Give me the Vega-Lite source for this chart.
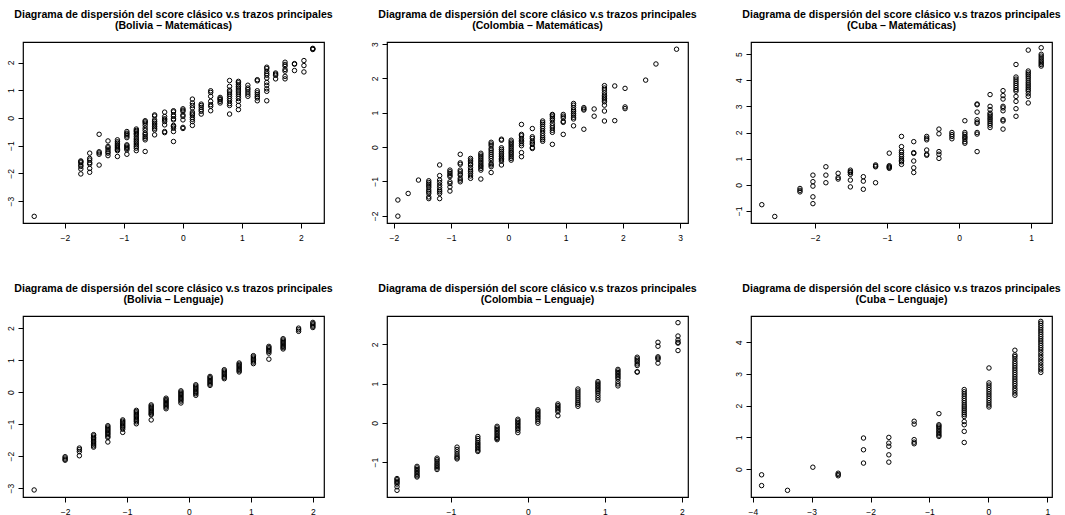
{
  "$schema": "https://vega.github.io/schema/vega-lite/v6.json",
  "background": "white",
  "padding": {"left": 5, "top": 9, "right": 5, "bottom": 5},
  "bounds": "flush",
  "columns": 3,
  "spacing": {"row": 93, "column": 63},
  "config": {
    "view": {"stroke": "black", "strokeWidth": 1.2, "continuousWidth": 301, "continuousHeight": 181},
    "font": "Liberation Sans",
    "axis": {
      "grid": false, "domain": false, "ticks": true, "tickColor": "black", "tickSize": 5, "tickWidth": 1,
      "labelFont": "Liberation Sans", "labelFontSize": 8.5, "labelColor": "black",
      "labelOverlap": false, "labelFlush": false, "labelBound": false
    },
    "axisX": {"labelPadding": 5},
    "axisY": {"labelAngle": 270, "labelAlign": "center", "labelBaseline": "bottom", "labelPadding": 3},
    "title": {"font": "Liberation Sans", "fontWeight": "bold", "fontSize": 10.6, "color": "black", "anchor": "middle", "offset": 10, "lineHeight": 11},
    "point": {"shape": "circle", "filled": false, "color": "black", "size": 20, "strokeWidth": 1, "opacity": 1}
  },
  "datasets": {
    "bol_mat": [
      {"trazo":-2.52,"score":-3.55},
      {"trazo":-1.73,"score":-1.55},{"trazo":-1.73,"score":-1.58},{"trazo":-1.73,"score":-1.62},{"trazo":-1.73,"score":-1.70},{"trazo":-1.73,"score":-1.75},{"trazo":-1.73,"score":-1.84},{"trazo":-1.73,"score":-2.02},
      {"trazo":-1.58,"score":-1.27},{"trazo":-1.58,"score":-1.46},{"trazo":-1.58,"score":-1.52},{"trazo":-1.58,"score":-1.61},{"trazo":-1.58,"score":-1.66},{"trazo":-1.58,"score":-1.82},{"trazo":-1.58,"score":-1.96},
      {"trazo":-1.42,"score":-0.59},{"trazo":-1.42,"score":-1.22},{"trazo":-1.42,"score":-1.26},{"trazo":-1.42,"score":-1.31},{"trazo":-1.42,"score":-1.70},
      {"trazo":-1.27,"score":-0.83},{"trazo":-1.27,"score":-1.03},{"trazo":-1.27,"score":-1.08},{"trazo":-1.27,"score":-1.15},{"trazo":-1.27,"score":-1.22},{"trazo":-1.27,"score":-1.27},{"trazo":-1.27,"score":-1.36},
      {"trazo":-1.11,"score":-0.79},{"trazo":-1.11,"score":-0.86},{"trazo":-1.11,"score":-0.91},{"trazo":-1.11,"score":-0.97},{"trazo":-1.11,"score":-1.01},{"trazo":-1.11,"score":-1.05},{"trazo":-1.11,"score":-1.09},{"trazo":-1.11,"score":-1.14},{"trazo":-1.11,"score":-1.18},{"trazo":-1.11,"score":-1.39},
      {"trazo":-0.95,"score":-0.49},{"trazo":-0.95,"score":-0.55},{"trazo":-0.95,"score":-0.59},{"trazo":-0.95,"score":-0.65},{"trazo":-0.95,"score":-0.71},{"trazo":-0.95,"score":-0.97},{"trazo":-0.95,"score":-1.01},{"trazo":-0.95,"score":-1.06},{"trazo":-0.95,"score":-1.10},{"trazo":-0.95,"score":-1.15},{"trazo":-0.95,"score":-1.31},
      {"trazo":-0.79,"score":-0.40},{"trazo":-0.79,"score":-0.45},{"trazo":-0.79,"score":-0.49},{"trazo":-0.79,"score":-0.55},{"trazo":-0.79,"score":-0.59},{"trazo":-0.79,"score":-0.66},{"trazo":-0.79,"score":-0.73},{"trazo":-0.79,"score":-0.79},{"trazo":-0.79,"score":-0.85},{"trazo":-0.79,"score":-0.91},{"trazo":-0.79,"score":-0.97},{"trazo":-0.79,"score":-1.03},{"trazo":-0.79,"score":-1.09},{"trazo":-0.79,"score":-1.18},
      {"trazo":-0.64,"score":-0.10},{"trazo":-0.64,"score":-0.14},{"trazo":-0.64,"score":-0.19},{"trazo":-0.64,"score":-0.27},{"trazo":-0.64,"score":-0.37},{"trazo":-0.64,"score":-0.45},{"trazo":-0.64,"score":-0.55},{"trazo":-0.64,"score":-0.60},{"trazo":-0.64,"score":-0.67},{"trazo":-0.64,"score":-0.73},{"trazo":-0.64,"score":-0.79},{"trazo":-0.64,"score":-1.21},
      {"trazo":-0.48,"score":0.11},{"trazo":-0.48,"score":0.07},{"trazo":-0.48,"score":-0.07},{"trazo":-0.48,"score":-0.13},{"trazo":-0.48,"score":-0.19},{"trazo":-0.48,"score":-0.25},{"trazo":-0.48,"score":-0.31},{"trazo":-0.48,"score":-0.37},{"trazo":-0.48,"score":-0.43},{"trazo":-0.48,"score":-0.61},
      {"trazo":-0.31,"score":0.21},{"trazo":-0.31,"score":0.05},{"trazo":-0.31,"score":-0.03},{"trazo":-0.31,"score":-0.07},{"trazo":-0.31,"score":-0.13},{"trazo":-0.31,"score":-0.25},{"trazo":-0.31,"score":-0.49},{"trazo":-0.31,"score":-0.53},
      {"trazo":-0.16,"score":0.26},{"trazo":-0.16,"score":0.22},{"trazo":-0.16,"score":0.11},{"trazo":-0.16,"score":0.06},{"trazo":-0.16,"score":-0.03},{"trazo":-0.16,"score":-0.07},{"trazo":-0.16,"score":-0.27},{"trazo":-0.16,"score":-0.31},{"trazo":-0.16,"score":-0.37},{"trazo":-0.16,"score":-0.49},{"trazo":-0.16,"score":-0.85},
      {"trazo":0.0,"score":0.33},{"trazo":0.0,"score":0.28},{"trazo":0.0,"score":0.24},{"trazo":0.0,"score":0.11},{"trazo":0.0,"score":0.06},{"trazo":0.0,"score":-0.07},{"trazo":0.0,"score":-0.34},{"trazo":0.0,"score":-0.38},
      {"trazo":0.16,"score":0.68},{"trazo":0.16,"score":0.54},{"trazo":0.16,"score":0.45},{"trazo":0.16,"score":0.36},{"trazo":0.16,"score":0.21},{"trazo":0.16,"score":0.15},{"trazo":0.16,"score":0.11},{"trazo":0.16,"score":0.02},{"trazo":0.16,"score":-0.05},{"trazo":0.16,"score":-0.13},{"trazo":0.16,"score":-0.27},
      {"trazo":0.31,"score":0.50},{"trazo":0.31,"score":0.45},{"trazo":0.31,"score":0.38},{"trazo":0.31,"score":0.30},{"trazo":0.31,"score":0.24},{"trazo":0.31,"score":0.14},
      {"trazo":0.47,"score":0.98},{"trazo":0.47,"score":0.92},{"trazo":0.47,"score":0.78},{"trazo":0.47,"score":0.60},{"trazo":0.47,"score":0.48},{"trazo":0.47,"score":0.42},{"trazo":0.47,"score":0.26},
      {"trazo":0.63,"score":0.74},{"trazo":0.63,"score":0.69},{"trazo":0.63,"score":0.66},{"trazo":0.63,"score":0.60},{"trazo":0.63,"score":0.54},
      {"trazo":0.79,"score":1.35},{"trazo":0.79,"score":1.14},{"trazo":0.79,"score":1.00},{"trazo":0.79,"score":0.94},{"trazo":0.79,"score":0.86},{"trazo":0.79,"score":0.78},{"trazo":0.79,"score":0.70},{"trazo":0.79,"score":0.62},{"trazo":0.79,"score":0.52},{"trazo":0.79,"score":0.45},{"trazo":0.79,"score":0.14},
      {"trazo":0.94,"score":1.32},{"trazo":0.94,"score":1.27},{"trazo":0.94,"score":1.20},{"trazo":0.94,"score":1.14},{"trazo":0.94,"score":1.08},{"trazo":0.94,"score":1.01},{"trazo":0.94,"score":0.94},{"trazo":0.94,"score":0.86},{"trazo":0.94,"score":0.78},{"trazo":0.94,"score":0.70},{"trazo":0.94,"score":0.60},{"trazo":0.94,"score":0.45},{"trazo":0.94,"score":0.30},
      {"trazo":1.10,"score":1.18},{"trazo":1.10,"score":1.08},{"trazo":1.10,"score":1.02},{"trazo":1.10,"score":0.94},{"trazo":1.10,"score":0.86},{"trazo":1.10,"score":0.78},
      {"trazo":1.26,"score":1.38},{"trazo":1.26,"score":1.34},{"trazo":1.26,"score":0.98},{"trazo":1.26,"score":0.91},{"trazo":1.26,"score":0.84},{"trazo":1.26,"score":0.77},{"trazo":1.26,"score":0.72},{"trazo":1.26,"score":0.62},
      {"trazo":1.42,"score":1.83},{"trazo":1.42,"score":1.78},{"trazo":1.42,"score":1.68},{"trazo":1.42,"score":1.60},{"trazo":1.42,"score":1.54},{"trazo":1.42,"score":1.44},{"trazo":1.42,"score":1.28},{"trazo":1.42,"score":1.18},{"trazo":1.42,"score":1.05},{"trazo":1.42,"score":0.96},{"trazo":1.42,"score":0.62},
      {"trazo":1.57,"score":1.62},{"trazo":1.57,"score":1.58},{"trazo":1.57,"score":1.54},{"trazo":1.57,"score":1.41},
      {"trazo":1.73,"score":2.01},{"trazo":1.73,"score":1.93},{"trazo":1.73,"score":1.87},{"trazo":1.73,"score":1.75},{"trazo":1.73,"score":1.69},{"trazo":1.73,"score":1.50},{"trazo":1.73,"score":1.41},
      {"trazo":1.89,"score":1.96},{"trazo":1.89,"score":1.94},{"trazo":1.89,"score":1.71},
      {"trazo":2.05,"score":2.07},{"trazo":2.05,"score":1.89},{"trazo":2.05,"score":1.66},
      {"trazo":2.20,"score":2.49},{"trazo":2.20,"score":2.51},{"trazo":2.20,"score":2.47}
    ],
    "col_mat": [
      {"trazo":-1.93,"score":-1.54},{"trazo":-1.93,"score":-2.01},
      {"trazo":-1.75,"score":-1.35},
      {"trazo":-1.57,"score":-0.96},
      {"trazo":-1.39,"score":-0.98},{"trazo":-1.39,"score":-1.03},{"trazo":-1.39,"score":-1.08},{"trazo":-1.39,"score":-1.13},{"trazo":-1.39,"score":-1.18},{"trazo":-1.39,"score":-1.25},{"trazo":-1.39,"score":-1.30},{"trazo":-1.39,"score":-1.35},{"trazo":-1.39,"score":-1.45},{"trazo":-1.39,"score":-1.50},
      {"trazo":-1.20,"score":-0.52},{"trazo":-1.20,"score":-0.83},{"trazo":-1.20,"score":-0.96},{"trazo":-1.20,"score":-1.03},{"trazo":-1.20,"score":-1.11},{"trazo":-1.20,"score":-1.18},{"trazo":-1.20,"score":-1.25},{"trazo":-1.20,"score":-1.30},{"trazo":-1.20,"score":-1.35},{"trazo":-1.20,"score":-1.50},
      {"trazo":-1.02,"score":-0.67},{"trazo":-1.02,"score":-0.72},{"trazo":-1.02,"score":-0.77},{"trazo":-1.02,"score":-0.82},{"trazo":-1.02,"score":-0.86},{"trazo":-1.02,"score":-1.01},{"trazo":-1.02,"score":-1.06},{"trazo":-1.02,"score":-1.16},{"trazo":-1.02,"score":-1.28},
      {"trazo":-0.84,"score":-0.21},{"trazo":-0.84,"score":-0.46},{"trazo":-0.84,"score":-0.50},{"trazo":-0.84,"score":-0.67},{"trazo":-0.84,"score":-0.72},{"trazo":-0.84,"score":-0.78},{"trazo":-0.84,"score":-0.82},{"trazo":-0.84,"score":-0.91},{"trazo":-0.84,"score":-0.96},{"trazo":-0.84,"score":-1.01},
      {"trazo":-0.66,"score":-0.33},{"trazo":-0.66,"score":-0.38},{"trazo":-0.66,"score":-0.43},{"trazo":-0.66,"score":-0.49},{"trazo":-0.66,"score":-0.52},{"trazo":-0.66,"score":-0.60},{"trazo":-0.66,"score":-0.67},{"trazo":-0.66,"score":-0.72},{"trazo":-0.66,"score":-0.77},{"trazo":-0.66,"score":-0.84},{"trazo":-0.66,"score":-0.91},
      {"trazo":-0.48,"score":-0.18},{"trazo":-0.48,"score":-0.23},{"trazo":-0.48,"score":-0.28},{"trazo":-0.48,"score":-0.33},{"trazo":-0.48,"score":-0.38},{"trazo":-0.48,"score":-0.43},{"trazo":-0.48,"score":-0.48},{"trazo":-0.48,"score":-0.53},{"trazo":-0.48,"score":-0.57},{"trazo":-0.48,"score":-0.62},{"trazo":-0.48,"score":-0.67},{"trazo":-0.48,"score":-0.93},
      {"trazo":-0.30,"score":0.14},{"trazo":-0.30,"score":0.09},{"trazo":-0.30,"score":0.04},{"trazo":-0.30,"score":-0.04},{"trazo":-0.30,"score":-0.09},{"trazo":-0.30,"score":-0.15},{"trazo":-0.30,"score":-0.21},{"trazo":-0.30,"score":-0.27},{"trazo":-0.30,"score":-0.33},{"trazo":-0.30,"score":-0.40},{"trazo":-0.30,"score":-0.48},{"trazo":-0.30,"score":-0.52},{"trazo":-0.30,"score":-0.57},{"trazo":-0.30,"score":-0.74},
      {"trazo":-0.12,"score":0.23},{"trazo":-0.12,"score":0.20},{"trazo":-0.12,"score":-0.02},{"trazo":-0.12,"score":-0.07},{"trazo":-0.12,"score":-0.12},{"trazo":-0.12,"score":-0.18},{"trazo":-0.12,"score":-0.23},{"trazo":-0.12,"score":-0.28},{"trazo":-0.12,"score":-0.33},{"trazo":-0.12,"score":-0.37},{"trazo":-0.12,"score":-0.41},{"trazo":-0.12,"score":-0.52},
      {"trazo":0.05,"score":0.20},{"trazo":0.05,"score":0.15},{"trazo":0.05,"score":0.11},{"trazo":0.05,"score":0.06},{"trazo":0.05,"score":0.01},{"trazo":0.05,"score":-0.04},{"trazo":0.05,"score":-0.09},{"trazo":0.05,"score":-0.14},{"trazo":0.05,"score":-0.18},{"trazo":0.05,"score":-0.23},{"trazo":0.05,"score":-0.28},{"trazo":0.05,"score":-0.33},{"trazo":0.05,"score":-0.38},
      {"trazo":0.23,"score":0.66},{"trazo":0.23,"score":0.37},{"trazo":0.23,"score":0.33},{"trazo":0.23,"score":0.25},{"trazo":0.23,"score":0.20},{"trazo":0.23,"score":0.16},{"trazo":0.23,"score":0.10},{"trazo":0.23,"score":0.04},{"trazo":0.23,"score":-0.16},{"trazo":0.23,"score":-0.28},
      {"trazo":0.42,"score":0.54},{"trazo":0.42,"score":0.30},{"trazo":0.42,"score":0.25},{"trazo":0.42,"score":0.17},{"trazo":0.42,"score":0.12},{"trazo":0.42,"score":0.08},{"trazo":0.42,"score":-0.01},{"trazo":0.42,"score":-0.04},
      {"trazo":0.60,"score":0.76},{"trazo":0.60,"score":0.71},{"trazo":0.60,"score":0.66},{"trazo":0.60,"score":0.60},{"trazo":0.60,"score":0.54},{"trazo":0.60,"score":0.47},{"trazo":0.60,"score":0.40},{"trazo":0.60,"score":0.33},{"trazo":0.60,"score":0.27},{"trazo":0.60,"score":0.22},{"trazo":0.60,"score":0.17},
      {"trazo":0.77,"score":0.95},{"trazo":0.77,"score":0.93},{"trazo":0.77,"score":0.88},{"trazo":0.77,"score":0.83},{"trazo":0.77,"score":0.78},{"trazo":0.77,"score":0.69},{"trazo":0.77,"score":0.62},{"trazo":0.77,"score":0.56},{"trazo":0.77,"score":0.49},{"trazo":0.77,"score":0.43},{"trazo":0.77,"score":0.08},
      {"trazo":0.96,"score":0.95},{"trazo":0.96,"score":0.90},{"trazo":0.96,"score":0.85},{"trazo":0.96,"score":0.75},{"trazo":0.96,"score":0.72},{"trazo":0.96,"score":0.37},
      {"trazo":1.14,"score":1.27},{"trazo":1.14,"score":1.22},{"trazo":1.14,"score":1.15},{"trazo":1.14,"score":1.08},{"trazo":1.14,"score":1.03},{"trazo":1.14,"score":0.98},{"trazo":1.14,"score":0.93},{"trazo":1.14,"score":0.87},{"trazo":1.14,"score":0.82},{"trazo":1.14,"score":0.62},
      {"trazo":1.32,"score":1.15},{"trazo":1.32,"score":1.11},{"trazo":1.32,"score":1.08},{"trazo":1.32,"score":0.52},
      {"trazo":1.50,"score":1.11},{"trazo":1.50,"score":0.90},
      {"trazo":1.68,"score":1.79},{"trazo":1.68,"score":1.72},{"trazo":1.68,"score":1.66},{"trazo":1.68,"score":1.58},{"trazo":1.68,"score":1.51},{"trazo":1.68,"score":1.46},{"trazo":1.68,"score":1.42},{"trazo":1.68,"score":1.37},{"trazo":1.68,"score":1.32},{"trazo":1.68,"score":1.22},{"trazo":1.68,"score":1.05},{"trazo":1.68,"score":0.76},
      {"trazo":1.86,"score":1.78},{"trazo":1.86,"score":0.77},
      {"trazo":2.04,"score":1.71},{"trazo":2.04,"score":1.17},{"trazo":2.04,"score":1.12},
      {"trazo":2.40,"score":1.95},
      {"trazo":2.58,"score":2.42},
      {"trazo":2.94,"score":2.85}
    ],
    "cub_mat": [
      {"trazo":-2.74,"score":-0.76},
      {"trazo":-2.56,"score":-1.21},
      {"trazo":-2.21,"score":-0.14},{"trazo":-2.21,"score":-0.21},{"trazo":-2.21,"score":-0.27},
      {"trazo":-2.03,"score":0.37},{"trazo":-2.03,"score":0.12},{"trazo":-2.03,"score":-0.05},{"trazo":-2.03,"score":-0.46},{"trazo":-2.03,"score":-0.72},
      {"trazo":-1.85,"score":0.69},{"trazo":-1.85,"score":0.37},{"trazo":-1.85,"score":0.08},
      {"trazo":-1.68,"score":0.44},{"trazo":-1.68,"score":0.28},{"trazo":-1.68,"score":0.22},
      {"trazo":-1.51,"score":0.56},{"trazo":-1.51,"score":0.50},{"trazo":-1.51,"score":0.47},{"trazo":-1.51,"score":0.40},{"trazo":-1.51,"score":0.18},{"trazo":-1.51,"score":-0.08},
      {"trazo":-1.33,"score":0.31},{"trazo":-1.33,"score":0.14},{"trazo":-1.33,"score":-0.17},
      {"trazo":-1.16,"score":0.76},{"trazo":-1.16,"score":0.72},{"trazo":-1.16,"score":0.69},{"trazo":-1.16,"score":0.08},
      {"trazo":-0.97,"score":1.21},{"trazo":-0.97,"score":0.73},{"trazo":-0.97,"score":0.69},{"trazo":-0.97,"score":0.67},{"trazo":-0.97,"score":0.63},
      {"trazo":-0.80,"score":1.85},{"trazo":-0.80,"score":1.46},{"trazo":-0.80,"score":1.30},{"trazo":-0.80,"score":1.24},{"trazo":-0.80,"score":1.15},{"trazo":-0.80,"score":1.08},{"trazo":-0.80,"score":0.99},{"trazo":-0.80,"score":0.93},{"trazo":-0.80,"score":0.88},{"trazo":-0.80,"score":0.78},
      {"trazo":-0.63,"score":1.65},{"trazo":-0.63,"score":1.23},{"trazo":-0.63,"score":1.20},{"trazo":-0.63,"score":0.91},{"trazo":-0.63,"score":0.65},{"trazo":-0.63,"score":0.47},
      {"trazo":-0.45,"score":1.85},{"trazo":-0.45,"score":1.78},{"trazo":-0.45,"score":1.72},{"trazo":-0.45,"score":1.33},{"trazo":-0.45,"score":1.17},{"trazo":-0.45,"score":1.13},
      {"trazo":-0.28,"score":2.13},{"trazo":-0.28,"score":1.95},{"trazo":-0.28,"score":1.27},{"trazo":-0.28,"score":1.17},{"trazo":-0.28,"score":1.01},
      {"trazo":-0.10,"score":2.00},{"trazo":-0.10,"score":1.92},{"trazo":-0.10,"score":1.85},{"trazo":-0.10,"score":1.76},
      {"trazo":0.08,"score":2.45},{"trazo":0.08,"score":2.00},{"trazo":0.08,"score":1.93},{"trazo":0.08,"score":1.85},{"trazo":0.08,"score":1.80},{"trazo":0.08,"score":1.74},{"trazo":0.08,"score":1.65},{"trazo":0.08,"score":1.59},
      {"trazo":0.25,"score":3.09},{"trazo":0.25,"score":3.06},{"trazo":0.25,"score":2.78},{"trazo":0.25,"score":2.49},{"trazo":0.25,"score":2.40},{"trazo":0.25,"score":2.35},{"trazo":0.25,"score":2.00},{"trazo":0.25,"score":1.94},{"trazo":0.25,"score":1.27},
      {"trazo":0.43,"score":3.45},{"trazo":0.43,"score":3.00},{"trazo":0.43,"score":2.87},{"trazo":0.43,"score":2.74},{"trazo":0.43,"score":2.68},{"trazo":0.43,"score":2.62},{"trazo":0.43,"score":2.55},{"trazo":0.43,"score":2.49},{"trazo":0.43,"score":2.42},{"trazo":0.43,"score":2.35},{"trazo":0.43,"score":2.28},{"trazo":0.43,"score":2.19},
      {"trazo":0.61,"score":3.60},{"trazo":0.61,"score":3.41},{"trazo":0.61,"score":3.28},{"trazo":0.61,"score":3.00},{"trazo":0.61,"score":2.94},{"trazo":0.61,"score":2.83},{"trazo":0.61,"score":2.49},{"trazo":0.61,"score":2.44},{"trazo":0.61,"score":2.13},
      {"trazo":0.79,"score":4.60},{"trazo":0.79,"score":4.12},{"trazo":0.79,"score":4.04},{"trazo":0.79,"score":3.96},{"trazo":0.79,"score":3.88},{"trazo":0.79,"score":3.80},{"trazo":0.79,"score":3.72},{"trazo":0.79,"score":3.64},{"trazo":0.79,"score":3.58},{"trazo":0.79,"score":3.38},{"trazo":0.79,"score":3.19},{"trazo":0.79,"score":2.91},{"trazo":0.79,"score":2.62},
      {"trazo":0.96,"score":5.15},{"trazo":0.96,"score":4.35},{"trazo":0.96,"score":4.28},{"trazo":0.96,"score":4.22},{"trazo":0.96,"score":4.15},{"trazo":0.96,"score":4.08},{"trazo":0.96,"score":4.00},{"trazo":0.96,"score":3.92},{"trazo":0.96,"score":3.85},{"trazo":0.96,"score":3.78},{"trazo":0.96,"score":3.71},{"trazo":0.96,"score":3.64},{"trazo":0.96,"score":3.58},{"trazo":0.96,"score":3.48},{"trazo":0.96,"score":3.38},{"trazo":0.96,"score":3.13},
      {"trazo":1.14,"score":5.24},{"trazo":1.14,"score":4.99},{"trazo":1.14,"score":4.92},{"trazo":1.14,"score":4.85},{"trazo":1.14,"score":4.78},{"trazo":1.14,"score":4.72},{"trazo":1.14,"score":4.66},{"trazo":1.14,"score":4.60},{"trazo":1.14,"score":4.54}
    ],
    "bol_len": [
      {"trazo":-2.50,"score":-3.06},
      {"trazo":-2.00,"score":-2.02},{"trazo":-2.00,"score":-2.06},{"trazo":-2.00,"score":-2.10},{"trazo":-2.00,"score":-2.13},
      {"trazo":-1.77,"score":-1.75},{"trazo":-1.77,"score":-1.80},{"trazo":-1.77,"score":-1.86},{"trazo":-1.77,"score":-1.99},
      {"trazo":-1.54,"score":-1.33},{"trazo":-1.54,"score":-1.37},{"trazo":-1.54,"score":-1.42},{"trazo":-1.54,"score":-1.46},{"trazo":-1.54,"score":-1.50},{"trazo":-1.54,"score":-1.55},{"trazo":-1.54,"score":-1.59},{"trazo":-1.54,"score":-1.63},{"trazo":-1.54,"score":-1.68},{"trazo":-1.54,"score":-1.72},
      {"trazo":-1.31,"score":-1.05},{"trazo":-1.31,"score":-1.09},{"trazo":-1.31,"score":-1.13},{"trazo":-1.31,"score":-1.17},{"trazo":-1.31,"score":-1.21},{"trazo":-1.31,"score":-1.25},{"trazo":-1.31,"score":-1.29},{"trazo":-1.31,"score":-1.33},{"trazo":-1.31,"score":-1.38},{"trazo":-1.31,"score":-1.42},{"trazo":-1.31,"score":-1.56},
      {"trazo":-1.07,"score":-0.87},{"trazo":-1.07,"score":-0.91},{"trazo":-1.07,"score":-0.95},{"trazo":-1.07,"score":-0.99},{"trazo":-1.07,"score":-1.03},{"trazo":-1.07,"score":-1.07},{"trazo":-1.07,"score":-1.11},{"trazo":-1.07,"score":-1.16},{"trazo":-1.07,"score":-1.26},
      {"trazo":-0.85,"score":-0.57},{"trazo":-0.85,"score":-0.61},{"trazo":-0.85,"score":-0.65},{"trazo":-0.85,"score":-0.69},{"trazo":-0.85,"score":-0.73},{"trazo":-0.85,"score":-0.77},{"trazo":-0.85,"score":-0.81},{"trazo":-0.85,"score":-0.85},{"trazo":-0.85,"score":-0.89},{"trazo":-0.85,"score":-0.93},{"trazo":-0.85,"score":-0.99},
      {"trazo":-0.61,"score":-0.40},{"trazo":-0.61,"score":-0.44},{"trazo":-0.61,"score":-0.48},{"trazo":-0.61,"score":-0.52},{"trazo":-0.61,"score":-0.56},{"trazo":-0.61,"score":-0.60},{"trazo":-0.61,"score":-0.64},{"trazo":-0.61,"score":-0.68},{"trazo":-0.61,"score":-0.71},{"trazo":-0.61,"score":-0.87},
      {"trazo":-0.37,"score":-0.19},{"trazo":-0.37,"score":-0.23},{"trazo":-0.37,"score":-0.27},{"trazo":-0.37,"score":-0.31},{"trazo":-0.37,"score":-0.35},{"trazo":-0.37,"score":-0.39},{"trazo":-0.37,"score":-0.43},{"trazo":-0.37,"score":-0.47},{"trazo":-0.37,"score":-0.52},
      {"trazo":-0.13,"score":0.04},{"trazo":-0.13,"score":0.00},{"trazo":-0.13,"score":-0.04},{"trazo":-0.13,"score":-0.08},{"trazo":-0.13,"score":-0.12},{"trazo":-0.13,"score":-0.16},{"trazo":-0.13,"score":-0.20},{"trazo":-0.13,"score":-0.24},{"trazo":-0.13,"score":-0.28},{"trazo":-0.13,"score":-0.34},
      {"trazo":0.11,"score":0.23},{"trazo":0.11,"score":0.19},{"trazo":0.11,"score":0.15},{"trazo":0.11,"score":0.11},{"trazo":0.11,"score":0.07},{"trazo":0.11,"score":0.03},{"trazo":0.11,"score":-0.01},{"trazo":0.11,"score":-0.05},{"trazo":0.11,"score":-0.10},
      {"trazo":0.34,"score":0.49},{"trazo":0.34,"score":0.45},{"trazo":0.34,"score":0.41},{"trazo":0.34,"score":0.37},{"trazo":0.34,"score":0.33},{"trazo":0.34,"score":0.29},{"trazo":0.34,"score":0.25},{"trazo":0.34,"score":0.21},
      {"trazo":0.57,"score":0.70},{"trazo":0.57,"score":0.66},{"trazo":0.57,"score":0.62},{"trazo":0.57,"score":0.58},{"trazo":0.57,"score":0.54},{"trazo":0.57,"score":0.50},{"trazo":0.57,"score":0.46},{"trazo":0.57,"score":0.42},
      {"trazo":0.81,"score":0.91},{"trazo":0.81,"score":0.87},{"trazo":0.81,"score":0.83},{"trazo":0.81,"score":0.79},{"trazo":0.81,"score":0.75},{"trazo":0.81,"score":0.71},{"trazo":0.81,"score":0.67},{"trazo":0.81,"score":0.63},
      {"trazo":1.04,"score":1.14},{"trazo":1.04,"score":1.10},{"trazo":1.04,"score":1.06},{"trazo":1.04,"score":1.02},{"trazo":1.04,"score":0.98},{"trazo":1.04,"score":0.94},{"trazo":1.04,"score":0.89},
      {"trazo":1.29,"score":1.43},{"trazo":1.29,"score":1.39},{"trazo":1.29,"score":1.35},{"trazo":1.29,"score":1.31},{"trazo":1.29,"score":1.27},{"trazo":1.29,"score":1.22},{"trazo":1.29,"score":1.03},
      {"trazo":1.52,"score":1.67},{"trazo":1.52,"score":1.63},{"trazo":1.52,"score":1.59},{"trazo":1.52,"score":1.55},{"trazo":1.52,"score":1.51},{"trazo":1.52,"score":1.47},{"trazo":1.52,"score":1.43},{"trazo":1.52,"score":1.39},{"trazo":1.52,"score":1.35},
      {"trazo":1.77,"score":2.00},{"trazo":1.77,"score":1.95},{"trazo":1.77,"score":1.90},
      {"trazo":2.00,"score":2.18},{"trazo":2.00,"score":2.14},{"trazo":2.00,"score":2.10},{"trazo":2.00,"score":2.06},{"trazo":2.00,"score":2.02}
    ],
    "col_len": [
      {"trazo":-1.70,"score":-1.42},{"trazo":-1.70,"score":-1.45},{"trazo":-1.70,"score":-1.49},{"trazo":-1.70,"score":-1.52},{"trazo":-1.70,"score":-1.56},{"trazo":-1.70,"score":-1.63},{"trazo":-1.70,"score":-1.72},
      {"trazo":-1.44,"score":-1.11},{"trazo":-1.44,"score":-1.15},{"trazo":-1.44,"score":-1.19},{"trazo":-1.44,"score":-1.23},{"trazo":-1.44,"score":-1.27},{"trazo":-1.44,"score":-1.31},{"trazo":-1.44,"score":-1.35},{"trazo":-1.44,"score":-1.38},
      {"trazo":-1.18,"score":-0.90},{"trazo":-1.18,"score":-0.94},{"trazo":-1.18,"score":-0.98},{"trazo":-1.18,"score":-1.03},{"trazo":-1.18,"score":-1.07},{"trazo":-1.18,"score":-1.11},{"trazo":-1.18,"score":-1.15},{"trazo":-1.18,"score":-1.19},
      {"trazo":-0.92,"score":-0.62},{"trazo":-0.92,"score":-0.68},{"trazo":-0.92,"score":-0.74},{"trazo":-0.92,"score":-0.80},{"trazo":-0.92,"score":-0.85},{"trazo":-0.92,"score":-0.89},{"trazo":-0.92,"score":-0.92},
      {"trazo":-0.65,"score":-0.35},{"trazo":-0.65,"score":-0.40},{"trazo":-0.65,"score":-0.45},{"trazo":-0.65,"score":-0.50},{"trazo":-0.65,"score":-0.54},{"trazo":-0.65,"score":-0.58},{"trazo":-0.65,"score":-0.62},{"trazo":-0.65,"score":-0.66},{"trazo":-0.65,"score":-0.70},{"trazo":-0.65,"score":-0.73},
      {"trazo":-0.40,"score":-0.09},{"trazo":-0.40,"score":-0.13},{"trazo":-0.40,"score":-0.17},{"trazo":-0.40,"score":-0.21},{"trazo":-0.40,"score":-0.25},{"trazo":-0.40,"score":-0.29},{"trazo":-0.40,"score":-0.33},{"trazo":-0.40,"score":-0.37},{"trazo":-0.40,"score":-0.40},{"trazo":-0.40,"score":-0.43},
      {"trazo":-0.13,"score":0.09},{"trazo":-0.13,"score":0.05},{"trazo":-0.13,"score":0.01},{"trazo":-0.13,"score":-0.03},{"trazo":-0.13,"score":-0.07},{"trazo":-0.13,"score":-0.11},{"trazo":-0.13,"score":-0.15},{"trazo":-0.13,"score":-0.19},{"trazo":-0.13,"score":-0.25},
      {"trazo":0.13,"score":0.33},{"trazo":0.13,"score":0.29},{"trazo":0.13,"score":0.25},{"trazo":0.13,"score":0.21},{"trazo":0.13,"score":0.17},{"trazo":0.13,"score":0.13},{"trazo":0.13,"score":0.09},{"trazo":0.13,"score":0.04},{"trazo":0.13,"score":-0.01},
      {"trazo":0.39,"score":0.48},{"trazo":0.39,"score":0.44},{"trazo":0.39,"score":0.40},{"trazo":0.39,"score":0.36},{"trazo":0.39,"score":0.32},{"trazo":0.39,"score":0.28},{"trazo":0.39,"score":0.18},
      {"trazo":0.65,"score":0.86},{"trazo":0.65,"score":0.81},{"trazo":0.65,"score":0.76},{"trazo":0.65,"score":0.71},{"trazo":0.65,"score":0.66},{"trazo":0.65,"score":0.61},{"trazo":0.65,"score":0.56},{"trazo":0.65,"score":0.51},{"trazo":0.65,"score":0.47},{"trazo":0.65,"score":0.42},
      {"trazo":0.91,"score":1.05},{"trazo":0.91,"score":1.01},{"trazo":0.91,"score":0.97},{"trazo":0.91,"score":0.93},{"trazo":0.91,"score":0.89},{"trazo":0.91,"score":0.85},{"trazo":0.91,"score":0.81},{"trazo":0.91,"score":0.76},{"trazo":0.91,"score":0.70},{"trazo":0.91,"score":0.64},{"trazo":0.91,"score":0.58},
      {"trazo":1.17,"score":1.36},{"trazo":1.17,"score":1.32},{"trazo":1.17,"score":1.28},{"trazo":1.17,"score":1.24},{"trazo":1.17,"score":1.20},{"trazo":1.17,"score":1.16},{"trazo":1.17,"score":1.12},{"trazo":1.17,"score":1.05},{"trazo":1.17,"score":0.99},{"trazo":1.17,"score":0.94},
      {"trazo":1.42,"score":1.67},{"trazo":1.42,"score":1.63},{"trazo":1.42,"score":1.59},{"trazo":1.42,"score":1.55},{"trazo":1.42,"score":1.50},{"trazo":1.42,"score":1.46},{"trazo":1.42,"score":1.30},{"trazo":1.42,"score":1.29},
      {"trazo":1.69,"score":2.05},{"trazo":1.69,"score":1.95},{"trazo":1.69,"score":1.68},{"trazo":1.69,"score":1.65},{"trazo":1.69,"score":1.62},{"trazo":1.69,"score":1.52},
      {"trazo":1.95,"score":2.55},{"trazo":1.95,"score":2.21},{"trazo":1.95,"score":2.11},{"trazo":1.95,"score":2.05},{"trazo":1.95,"score":2.03},{"trazo":1.95,"score":1.84}
    ],
    "cub_len": [
      {"trazo":-3.85,"score":-0.18},{"trazo":-3.85,"score":-0.52},
      {"trazo":-3.41,"score":-0.67},
      {"trazo":-2.98,"score":0.06},
      {"trazo":-2.55,"score":-0.13},{"trazo":-2.55,"score":-0.17},{"trazo":-2.55,"score":-0.21},
      {"trazo":-2.12,"score":0.98},{"trazo":-2.12,"score":0.61},{"trazo":-2.12,"score":0.19},
      {"trazo":-1.69,"score":1.00},{"trazo":-1.69,"score":0.82},{"trazo":-1.69,"score":0.72},{"trazo":-1.69,"score":0.45},{"trazo":-1.69,"score":0.22},
      {"trazo":-1.26,"score":1.51},{"trazo":-1.26,"score":1.42},{"trazo":-1.26,"score":0.93},{"trazo":-1.26,"score":0.85},{"trazo":-1.26,"score":0.80},
      {"trazo":-0.84,"score":1.75},{"trazo":-0.84,"score":1.40},{"trazo":-0.84,"score":1.36},{"trazo":-0.84,"score":1.32},{"trazo":-0.84,"score":1.27},{"trazo":-0.84,"score":1.22},{"trazo":-0.84,"score":1.17},{"trazo":-0.84,"score":1.12},{"trazo":-0.84,"score":1.07},{"trazo":-0.84,"score":1.03},
      {"trazo":-0.41,"score":2.51},{"trazo":-0.41,"score":2.44},{"trazo":-0.41,"score":2.37},{"trazo":-0.41,"score":2.30},{"trazo":-0.41,"score":2.23},{"trazo":-0.41,"score":2.16},{"trazo":-0.41,"score":2.09},{"trazo":-0.41,"score":2.02},{"trazo":-0.41,"score":1.96},{"trazo":-0.41,"score":1.90},{"trazo":-0.41,"score":1.84},{"trazo":-0.41,"score":1.78},{"trazo":-0.41,"score":1.72},{"trazo":-0.41,"score":1.66},{"trazo":-0.41,"score":1.50},{"trazo":-0.41,"score":1.40},{"trazo":-0.41,"score":1.19},{"trazo":-0.41,"score":0.84},
      {"trazo":0.01,"score":3.19},{"trazo":0.01,"score":2.72},{"trazo":0.01,"score":2.65},{"trazo":0.01,"score":2.58},{"trazo":0.01,"score":2.51},{"trazo":0.01,"score":2.44},{"trazo":0.01,"score":2.37},{"trazo":0.01,"score":2.30},{"trazo":0.01,"score":2.23},{"trazo":0.01,"score":2.16},{"trazo":0.01,"score":2.09},{"trazo":0.01,"score":2.02},{"trazo":0.01,"score":1.96},
      {"trazo":0.45,"score":3.75},{"trazo":0.45,"score":3.60},{"trazo":0.45,"score":3.55},{"trazo":0.45,"score":3.48},{"trazo":0.45,"score":3.40},{"trazo":0.45,"score":3.33},{"trazo":0.45,"score":3.26},{"trazo":0.45,"score":3.19},{"trazo":0.45,"score":3.12},{"trazo":0.45,"score":3.05},{"trazo":0.45,"score":2.98},{"trazo":0.45,"score":2.91},{"trazo":0.45,"score":2.84},{"trazo":0.45,"score":2.77},{"trazo":0.45,"score":2.70},{"trazo":0.45,"score":2.63},{"trazo":0.45,"score":2.55},{"trazo":0.45,"score":2.48},{"trazo":0.45,"score":2.40},{"trazo":0.45,"score":2.33},
      {"trazo":0.89,"score":4.66},{"trazo":0.89,"score":4.60},{"trazo":0.89,"score":4.53},{"trazo":0.89,"score":4.46},{"trazo":0.89,"score":4.39},{"trazo":0.89,"score":4.32},{"trazo":0.89,"score":4.25},{"trazo":0.89,"score":4.18},{"trazo":0.89,"score":4.11},{"trazo":0.89,"score":4.04},{"trazo":0.89,"score":3.97},{"trazo":0.89,"score":3.90},{"trazo":0.89,"score":3.83},{"trazo":0.89,"score":3.76},{"trazo":0.89,"score":3.68},{"trazo":0.89,"score":3.60},{"trazo":0.89,"score":3.52},{"trazo":0.89,"score":3.44},{"trazo":0.89,"score":3.36},{"trazo":0.89,"score":3.28},{"trazo":0.89,"score":3.20},{"trazo":0.89,"score":3.13},{"trazo":0.89,"score":3.05}
    ]
  },
  "concat": [
    {
      "width": 301, "height": 181,
      "data": {"name": "bol_mat"},
      "title": {"text": ["Diagrama de dispersión del score clásico v.s trazos principales", "(Bolivia – Matemáticas)"]},
      "mark": {"type": "point"},
      "encoding": {
        "x": {"field": "trazo", "type": "quantitative", "title": null, "scale": {"domain": [-2.71, 2.39], "nice": false, "zero": false}, "axis": {"values": [-2, -1, 0, 1, 2]}},
        "y": {"field": "score", "type": "quantitative", "title": null, "scale": {"domain": [-3.79, 2.74], "nice": false, "zero": false}, "axis": {"values": [-3, -2, -1, 0, 1, 2]}}
      }
    },
    {
      "width": 301, "height": 181,
      "data": {"name": "col_mat"},
      "title": {"text": ["Diagrama de dispersión del score clásico v.s trazos principales", "(Colombia – Matemáticas)"]},
      "mark": {"type": "point"},
      "encoding": {
        "x": {"field": "trazo", "type": "quantitative", "title": null, "scale": {"domain": [-2.12, 3.14], "nice": false, "zero": false}, "axis": {"values": [-2, -1, 0, 1, 2, 3]}},
        "y": {"field": "score", "type": "quantitative", "title": null, "scale": {"domain": [-2.21, 3.06], "nice": false, "zero": false}, "axis": {"values": [-2, -1, 0, 1, 2, 3]}}
      }
    },
    {
      "width": 301, "height": 181,
      "data": {"name": "cub_mat"},
      "title": {"text": ["Diagrama de dispersión del score clásico v.s trazos principales", "(Cuba – Matemáticas)"]},
      "mark": {"type": "point"},
      "encoding": {
        "x": {"field": "trazo", "type": "quantitative", "title": null, "scale": {"domain": [-2.89, 1.29], "nice": false, "zero": false}, "axis": {"values": [-2, -1, 0, 1]}},
        "y": {"field": "score", "type": "quantitative", "title": null, "scale": {"domain": [-1.46, 5.46], "nice": false, "zero": false}, "axis": {"values": [-1, 0, 1, 2, 3, 4, 5]}}
      }
    },
    {
      "width": 301, "height": 181,
      "data": {"name": "bol_len"},
      "title": {"text": ["Diagrama de dispersión del score clásico v.s trazos principales", "(Bolivia – Lenguaje)"]},
      "mark": {"type": "point"},
      "encoding": {
        "x": {"field": "trazo", "type": "quantitative", "title": null, "scale": {"domain": [-2.68, 2.18], "nice": false, "zero": false}, "axis": {"values": [-2, -1, 0, 1, 2]}},
        "y": {"field": "score", "type": "quantitative", "title": null, "scale": {"domain": [-3.28, 2.38], "nice": false, "zero": false}, "axis": {"values": [-3, -2, -1, 0, 1, 2]}}
      }
    },
    {
      "width": 301, "height": 181,
      "data": {"name": "col_len"},
      "title": {"text": ["Diagrama de dispersión del score clásico v.s trazos principales", "(Colombia – Lenguaje)"]},
      "mark": {"type": "point"},
      "encoding": {
        "x": {"field": "trazo", "type": "quantitative", "title": null, "scale": {"domain": [-1.83, 2.08], "nice": false, "zero": false}, "axis": {"values": [-1, 0, 1, 2]}},
        "y": {"field": "score", "type": "quantitative", "title": null, "scale": {"domain": [-1.89, 2.72], "nice": false, "zero": false}, "axis": {"values": [-1, 0, 1, 2]}}
      }
    },
    {
      "width": 301, "height": 181,
      "data": {"name": "cub_len"},
      "title": {"text": ["Diagrama de dispersión del score clásico v.s trazos principales", "(Cuba – Lenguaje)"]},
      "mark": {"type": "point"},
      "encoding": {
        "x": {"field": "trazo", "type": "quantitative", "title": null, "scale": {"domain": [-4.03, 1.08], "nice": false, "zero": false}, "axis": {"values": [-4, -3, -2, -1, 0, 1]}},
        "y": {"field": "score", "type": "quantitative", "title": null, "scale": {"domain": [-0.88, 4.83], "nice": false, "zero": false}, "axis": {"values": [0, 1, 2, 3, 4]}}
      }
    }
  ]
}
